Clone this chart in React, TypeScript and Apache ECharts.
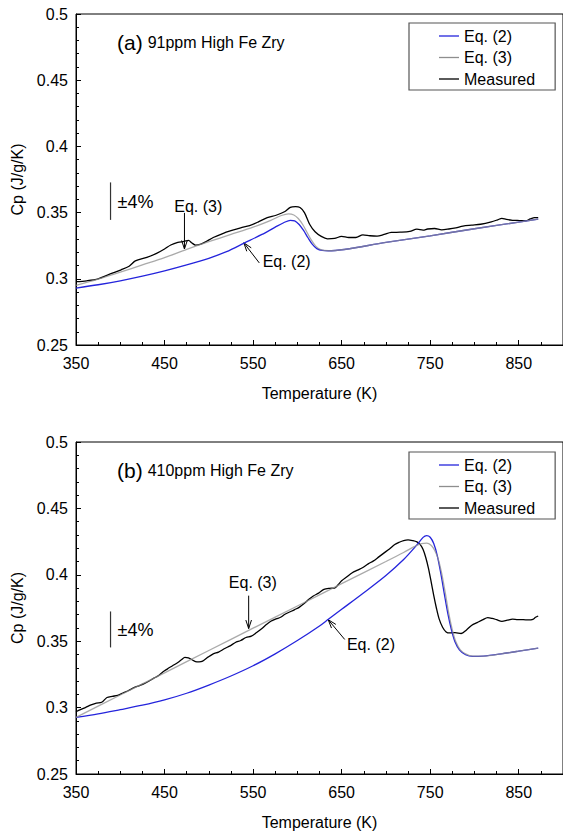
import React, { useEffect, useRef } from "react";
import * as echarts from "echarts";

// ---------- data (T in K, Cp in J/g/K) ----------
const topEq2: number[][] = [
  [350, 0.293], [375, 0.2955], [400, 0.2985], [425, 0.302], [450, 0.306], [475, 0.3105],
  [500, 0.3155], [520, 0.3205], [540, 0.327], [560, 0.3335], [575, 0.339], [585, 0.3425],
  [592, 0.3442], [597, 0.3438], [602, 0.341], [607, 0.3365], [612, 0.331], [617, 0.326],
  [622, 0.3228], [628, 0.3214], [635, 0.3212], [700, 0.3275], [750, 0.3325], [800, 0.3378],
  [850, 0.3428], [872, 0.345],
];
const topEq3: number[][] = [
  [350, 0.295], [375, 0.2998], [400, 0.305], [425, 0.3105], [450, 0.316], [475, 0.3222],
  [500, 0.328], [525, 0.3335], [550, 0.339], [570, 0.3442], [582, 0.3478], [590, 0.349],
  [596, 0.3482], [601, 0.3455], [606, 0.341], [611, 0.335], [616, 0.329], [621, 0.3245],
  [627, 0.3218], [635, 0.3212], [700, 0.3275], [750, 0.3325], [800, 0.3378], [850, 0.3428],
  [872, 0.345],
];
const topMeasured: number[][] = [
  [350, 0.2978], [362, 0.2985], [375, 0.3], [388, 0.3035], [401, 0.3068], [410, 0.3095],
  [417, 0.3135], [430, 0.3162], [441, 0.3192], [450, 0.3225], [457, 0.3255], [465, 0.3275],
  [472, 0.3282], [477, 0.329], [481, 0.327], [485, 0.3255], [491, 0.3262], [497, 0.3282],
  [505, 0.3312], [515, 0.334], [526, 0.3365], [536, 0.3385], [546, 0.3402], [556, 0.343],
  [566, 0.3462], [576, 0.348], [586, 0.3508], [592, 0.354], [598, 0.3545], [603, 0.3538],
  [608, 0.35], [614, 0.341], [620, 0.3355], [627, 0.332], [634, 0.3302], [642, 0.3305],
  [650, 0.332], [658, 0.3312], [666, 0.3312], [674, 0.3332], [682, 0.3325], [690, 0.3322],
  [698, 0.3335], [706, 0.335], [716, 0.3352], [727, 0.3358], [735, 0.3375], [742, 0.3368],
  [747, 0.3376], [755, 0.338], [763, 0.337], [771, 0.3376], [779, 0.3385], [787, 0.3398],
  [797, 0.3405], [807, 0.3412], [819, 0.343], [826, 0.3445], [831, 0.3457], [836, 0.3448],
  [843, 0.3442], [851, 0.344], [858, 0.3438], [863, 0.3452], [868, 0.3462], [872, 0.3462],
];

const botEq2: number[][] = [
  [350, 0.2926], [375, 0.2953], [400, 0.2985], [425, 0.3018], [450, 0.3058], [475, 0.3108],
  [500, 0.317], [525, 0.3238], [550, 0.3315], [575, 0.3405], [600, 0.3505], [625, 0.3615],
  [635, 0.3665], [650, 0.374], [675, 0.3865], [700, 0.3995], [720, 0.4115], [735, 0.4225],
  [742, 0.4282], [746, 0.4295], [750, 0.4283], [754, 0.4235], [758, 0.4145], [762, 0.401],
  [766, 0.3855], [770, 0.3705], [774, 0.3585], [778, 0.3495], [783, 0.3435], [790, 0.3398],
  [798, 0.3385], [810, 0.3388], [830, 0.3405], [850, 0.3425], [872, 0.3448],
];
const botEq3: number[][] = [
  [350, 0.2926], [400, 0.3095], [450, 0.3262], [500, 0.343], [550, 0.3598], [600, 0.3765],
  [650, 0.3933], [700, 0.41], [720, 0.4168], [732, 0.4212], [740, 0.4235], [746, 0.4238],
  [751, 0.4222], [755, 0.4185], [759, 0.412], [763, 0.401], [767, 0.3865], [771, 0.371],
  [775, 0.3585], [779, 0.3495], [784, 0.3435], [790, 0.3405], [798, 0.3388], [810, 0.3388],
  [830, 0.3405], [850, 0.3425], [872, 0.3448],
];
const botMeasured: number[][] = [
  [350, 0.2969], [355, 0.2985], [361, 0.3002], [367, 0.302], [373, 0.3034], [379, 0.304],
  [385, 0.3076], [391, 0.3085], [397, 0.3092], [403, 0.311], [409, 0.3127], [415, 0.3148],
  [421, 0.3164], [427, 0.318], [433, 0.3202], [438, 0.3222], [443, 0.324], [448, 0.3268],
  [453, 0.329], [459, 0.3315], [465, 0.334], [469, 0.336], [473, 0.3378], [477, 0.3375],
  [481, 0.336], [485, 0.3347], [489, 0.3345], [493, 0.335], [499, 0.338], [505, 0.3405],
  [511, 0.3418], [518, 0.3445], [524, 0.3465], [530, 0.349], [536, 0.3505], [542, 0.3528],
  [548, 0.3538], [554, 0.3565], [560, 0.3595], [565, 0.3625], [570, 0.365], [576, 0.3668],
  [581, 0.368], [586, 0.3703], [592, 0.3722], [597, 0.3738], [602, 0.3755], [608, 0.3785],
  [613, 0.3815], [618, 0.384], [624, 0.3862], [630, 0.389], [636, 0.3898], [642, 0.39],
  [646, 0.3925], [650, 0.3955], [656, 0.3985], [662, 0.4015], [668, 0.4035], [674, 0.4055],
  [680, 0.4082], [686, 0.4105], [692, 0.4135], [698, 0.4165], [704, 0.4195], [710, 0.4228],
  [715, 0.4245], [720, 0.4258], [725, 0.4263], [730, 0.4258], [735, 0.4248], [739, 0.4225],
  [742, 0.419], [745, 0.413], [748, 0.405], [751, 0.395], [754, 0.3845], [757, 0.375],
  [760, 0.367], [764, 0.3605], [768, 0.357], [772, 0.3562], [778, 0.3565], [785, 0.3558],
  [791, 0.3585], [797, 0.362], [803, 0.364], [809, 0.366], [815, 0.3678], [820, 0.3672],
  [825, 0.3662], [831, 0.365], [837, 0.3658], [843, 0.3666], [849, 0.3662], [855, 0.3662],
  [861, 0.366], [866, 0.3665], [869, 0.368], [872, 0.369],
];

const seriesNames = ["Eq. (2)", "Eq. (3)", "Measured"];
const panelLabels = ["(a)", "(b)"];
const panelTitles = ["91ppm High Fe Zry", "410ppm High Fe Zry"];
const xTitle = "Temperature (K)";
const yTitle = "Cp (J/g/K)";

// annotation anchors in data space, per panel
const annots = [
  {
    bar: [389, 0.3445, 0.3728], pm: [397, 0.358],
    eq3Text: [461, 0.3543], eq3Arrow: [[472.5, 0.3498], [472.5, 0.3225]],
    eq2Text: [560.8, 0.3128], eq2Arrow: [[557, 0.312], [539.5, 0.3272]],
  },
  {
    bar: [389, 0.3453, 0.3724], pm: [397, 0.3588],
    eq3Text: [522.6, 0.3941], eq3Arrow: [[545, 0.3843], [545, 0.3595]],
    eq2Text: [656, 0.3475], eq2Arrow: [[653.5, 0.3513], [634.8, 0.3662]],
  },
];

const FONT = "'Liberation Sans', Arial, Helvetica, sans-serif";
const BLUE = "#2424dc";
const GRAY = "#8e8e8e";
const BLACK = "#000000";

export default function App() {
  const ref = useRef<HTMLDivElement>(null);
  useEffect(() => {
    if (!ref.current) return;
    const chart = echarts.init(ref.current, undefined, { renderer: "svg" });
    const grids = [
      { left: 76, top: 14, width: 491, height: 331 },
      { left: 76, top: 442, width: 491, height: 333 },
    ];
    const xAxes = grids.map((_, i) => ({
      type: "value", gridIndex: i, min: 350, max: 900, interval: 100,
      name: xTitle, nameLocation: "middle", nameGap: 40,
      nameTextStyle: { fontFamily: FONT, fontSize: 16, color: "#000" },
      axisLine: { lineStyle: { color: "#000", width: 1 } },
      axisTick: { inside: true, length: 5, lineStyle: { color: "#000" } },
      minorTick: { show: true, splitNumber: 4, length: 3, lineStyle: { color: "#000" } },
      axisLabel: { fontFamily: FONT, fontSize: 16, color: "#000", margin: 10, showMaxLabel: false },
      splitLine: { show: false },
    }));
    const yAxes = grids.map((_, i) => ({
      type: "value", gridIndex: i, min: 0.25, max: 0.5, interval: 0.05,
      name: yTitle, nameLocation: "middle", nameGap: 51,
      nameTextStyle: { fontFamily: FONT, fontSize: 16, color: "#000" },
      axisLine: { lineStyle: { color: "#000", width: 1 } },
      axisTick: { inside: true, length: 5, lineStyle: { color: "#000" } },
      minorTick: { show: true, splitNumber: 5, length: 3, lineStyle: { color: "#000" } },
      axisLabel: { fontFamily: FONT, fontSize: 16, color: "#000", margin: 8 },
      splitLine: { show: false },
    }));
    const mk = (name: string, data: number[][], color: string, i: number, z: number, opacity = 1) => ({
      type: "line", name, data, xAxisIndex: i, yAxisIndex: i, showSymbol: false, symbol: "none",
      smooth: 0.3, z, lineStyle: { color, width: 1.3, opacity }, itemStyle: { color },
    });
    const series = [
      mk(seriesNames[2], topMeasured, BLACK, 0, 2),
      mk(seriesNames[0], topEq2, BLUE, 0, 3),
      mk(seriesNames[1], topEq3, GRAY, 0, 4, 0.75),
      mk(seriesNames[2], botMeasured, BLACK, 1, 2),
      mk(seriesNames[0], botEq2, BLUE, 1, 3),
      mk(seriesNames[1], botEq3, GRAY, 1, 4, 0.75),
    ];
    const legends = [23, 452].map((top) => ({
      data: seriesNames, orient: "vertical", left: 409, top,
      icon: "rect", itemWidth: 20, itemHeight: 1.3, itemGap: 5.5, itemTextGap: 4,
      padding: [5, 20, 3, 30], borderColor: "#555", borderWidth: 1.2, backgroundColor: "#fff",
      textStyle: { fontFamily: FONT, fontSize: 16, color: "#000" },
      selectedMode: false,
    }));
    const titles = [27, 455].map((top, i) => ({
      left: 112, top,
      text: `{a|${panelLabels[i]}} {b|${panelTitles[i]}}`,
      textStyle: {
        fontWeight: "normal",
        rich: {
          a: { fontFamily: FONT, fontSize: 21, fontWeight: "normal", color: "#000" },
          b: { fontFamily: FONT, fontSize: 16, fontWeight: "normal", color: "#000" },
        },
      },
    }));
    chart.setOption({
      animation: false,
      grid: grids.map((g) => ({ ...g, show: true, borderColor: "#000", borderWidth: 1, backgroundColor: "transparent" })),
      xAxis: xAxes, yAxis: yAxes, series, legend: legends, title: titles,
    });

    // annotations placed through the axes' own scales
    const graphic: any[] = [];
    const txt = { fontFamily: FONT, fontSize: 16, fill: "#000" };
    annots.forEach((a, i) => {
      const P = (p: number[]) => chart.convertToPixel({ gridIndex: i }, p) as number[];
      const b1 = P([a.bar[0], a.bar[1]]);
      const b2 = P([a.bar[0], a.bar[2]]);
      graphic.push({ type: "line", shape: { x1: b1[0], y1: b1[1], x2: b2[0], y2: b2[1] }, style: { stroke: "#333", lineWidth: 1.2 } });
      const pm = P(a.pm);
      graphic.push({ type: "text", x: pm[0], y: pm[1], style: { ...txt, fontSize: 18, text: "±4%", verticalAlign: "middle" } });
      [["Eq. (3)", a.eq3Text, a.eq3Arrow], ["Eq. (2)", a.eq2Text, a.eq2Arrow]].forEach(([label, tp, arr]: any) => {
        const t = P(tp);
        graphic.push({ type: "text", x: t[0], y: t[1], style: { ...txt, text: label, verticalAlign: "middle" } });
        const s = P(arr[0]);
        const e = P(arr[1]);
        graphic.push({ type: "line", shape: { x1: s[0], y1: s[1], x2: e[0], y2: e[1] }, style: { stroke: "#000", lineWidth: 1 } });
        const ang = Math.atan2(e[1] - s[1], e[0] - s[0]);
        const L = 9, spread = 0.32;
        const h1 = [e[0] - L * Math.cos(ang - spread), e[1] - L * Math.sin(ang - spread)];
        const h2 = [e[0] - L * Math.cos(ang + spread), e[1] - L * Math.sin(ang + spread)];
        graphic.push({ type: "polyline", shape: { points: [h1, e, h2] }, style: { stroke: "#000", lineWidth: 1, fill: null } });
      });
    });
    chart.setOption({ graphic });
    return () => chart.dispose();
  }, []);
  return <div ref={ref} style={{ position: "fixed", left: 0, top: 0, width: 563, height: 831, background: "#fff" }} />;
}
